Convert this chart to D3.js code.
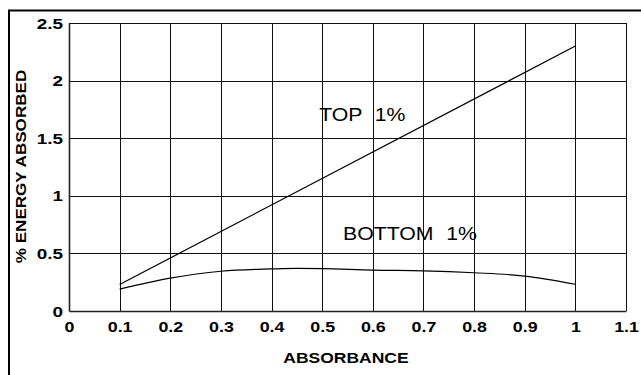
<!DOCTYPE html>
<html>
<head>
<meta charset="utf-8">
<script src="https://cdn.jsdelivr.net/npm/d3@7/dist/d3.min.js"></script>
<style>
  html, body { margin: 0; padding: 0; background: #fff; }
  svg { display: block; font-family: "Liberation Sans", Arial, Helvetica, sans-serif; }
</style>
</head>
<body>
<svg id="chart" width="641" height="375"></svg>
<script>
// Absorbance values and % energy absorbed for each series
const topAbsorbance = [0.1, 1.0];
const topEnergy = [0.23, 2.3];

const bottomAbsorbance = [0.1, 0.2, 0.3, 0.4, 0.45, 0.5, 0.6, 0.7, 0.8, 0.9, 1.0];
const bottomEnergy = [0.19, 0.285, 0.345, 0.365, 0.37, 0.368, 0.355, 0.349, 0.332, 0.303, 0.232];

const seriesLabels = ["TOP 1%", "BOTTOM 1%"];
const labelAbsorbance = [0.494, 0.541];
const labelEnergy = [1.645, 0.615];

const xTicks = [0, 0.1, 0.2, 0.3, 0.4, 0.5, 0.6, 0.7, 0.8, 0.9, 1, 1.1];
const yTicks = [0, 0.5, 1, 1.5, 2, 2.5];
const xTitle = "ABSORBANCE";
const yTitle = "% ENERGY ABSORBED";

const svg = d3.select("#chart");
const plotLeft = 69, plotRight = 626, plotTop = 23, plotBottom = 311;

const x = d3.scaleLinear().domain([0, 1.1]).range([plotLeft, plotRight]);
const y = d3.scaleLinear().domain([0, 2.5]).range([plotBottom, plotTop]);

// outer frame (left and top edges)
svg.append("path")
  .attr("d", `M9,376 V10.5 H642`)
  .attr("fill", "none").attr("stroke", "#000").attr("stroke-width", 2);

// grid
const grid = svg.append("g");
grid.selectAll("line.v").data(xTicks.slice(1)).join("line")
  .attr("x1", d => Math.round(x(d)) + 0.5).attr("x2", d => Math.round(x(d)) + 0.5)
  .attr("y1", plotTop).attr("y2", plotBottom)
  .attr("stroke", "#111").attr("stroke-width", 1);
grid.selectAll("line.h").data(yTicks.slice(1)).join("line")
  .attr("y1", d => Math.round(y(d)) + 0.5).attr("y2", d => Math.round(y(d)) + 0.5)
  .attr("x1", plotLeft).attr("x2", plotRight)
  .attr("stroke", "#111").attr("stroke-width", 1);

// axes
const fmt = d3.format("~g");
const xAxis = d3.axisBottom(x).tickValues(xTicks).tickSize(0).tickFormat(fmt);
const yAxis = d3.axisLeft(y).tickValues(yTicks).tickSize(0).tickFormat(fmt);

const gx = svg.append("g").attr("transform", `translate(0,${plotBottom})`).call(xAxis);
gx.select(".domain").attr("stroke", "#222").attr("stroke-width", 1.6);
gx.selectAll(".tick text").remove();
gx.selectAll(".tick").append("text")
  .attr("transform", "translate(0,21) scale(1.15,1)")
  .attr("text-anchor", "middle")
  .attr("font-size", 15.5).attr("font-weight", "bold").attr("fill", "#000")
  .text(d => fmt(d));

const gy = svg.append("g").attr("transform", `translate(${plotLeft},0)`).call(yAxis);
gy.select(".domain").attr("stroke", "#222").attr("stroke-width", 1.6);
gy.selectAll(".tick text").remove();
gy.selectAll(".tick").append("text")
  .attr("transform", "translate(-6,5) scale(1.35,1)")
  .attr("text-anchor", "end")
  .attr("font-size", 14).attr("font-weight", "bold").attr("fill", "#000")
  .text(d => fmt(d));

// axis titles
svg.append("text")
  .attr("transform", `translate(${(plotLeft + plotRight) / 2 - 1.5},363) scale(1.25,1)`)
  .attr("text-anchor", "middle")
  .attr("font-size", 14).attr("font-weight", "bold")
  .text(xTitle);
svg.append("text")
  .attr("transform", `translate(25.5,166.5) rotate(-90) scale(1.22,1)`)
  .attr("text-anchor", "middle")
  .attr("font-size", 14).attr("font-weight", "bold")
  .text(yTitle);

// series lines
const line = d3.line().x(d => x(d[0])).y(d => y(d[1]));
svg.append("path")
  .datum(d3.zip(topAbsorbance, topEnergy))
  .attr("d", line)
  .attr("fill", "none").attr("stroke", "#000").attr("stroke-width", 1.2);
svg.append("path")
  .datum(d3.zip(bottomAbsorbance, bottomEnergy))
  .attr("d", line.curve(d3.curveMonotoneX))
  .attr("fill", "none").attr("stroke", "#000").attr("stroke-width", 1.2);

// series labels
svg.selectAll("text.series").data(seriesLabels).join("text")
  .attr("class", "series")
  .attr("transform", (d, i) => `translate(${x(labelAbsorbance[i])},${y(labelEnergy[i])}) scale(1.12,1)`)
  .attr("font-size", 19)
  .attr("word-spacing", 6)
  .attr("fill", "#000")
  .text(d => d);
</script>
</body>
</html>
